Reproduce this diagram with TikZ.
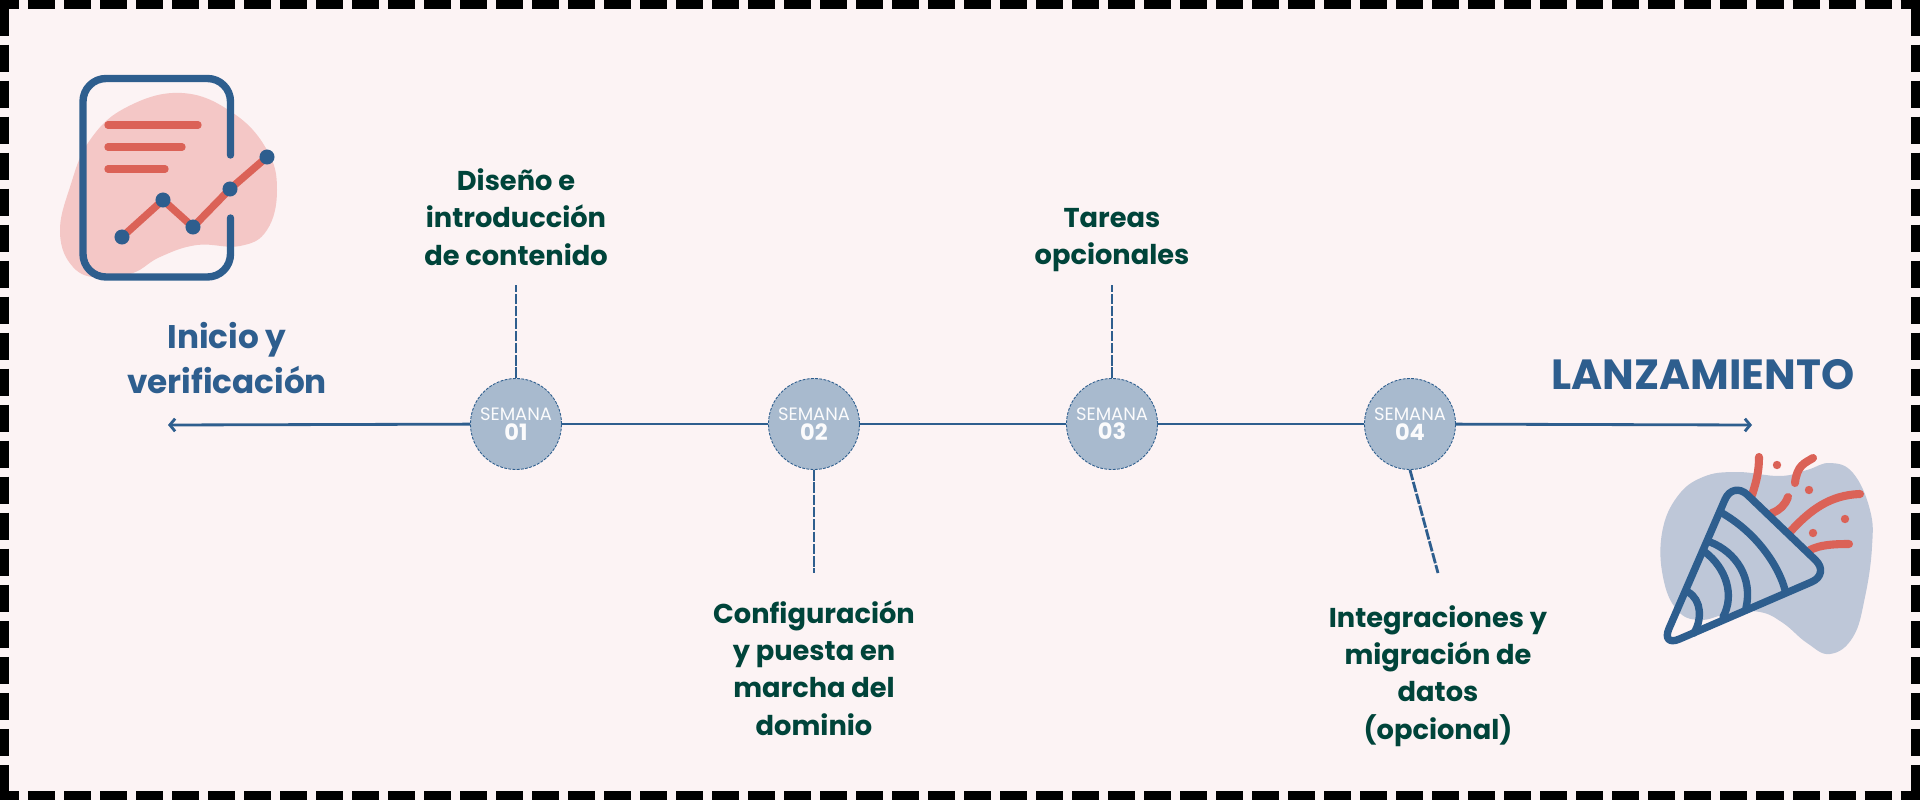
\documentclass[tikz,border=0pt]{standalone}
\usepackage{fontspec}
\usetikzlibrary{arrows.meta}
\setmainfont{Poppins}
\definecolor{fondo}{HTML}{FCF3F4}
\definecolor{azul}{HTML}{2E5E8E}
\definecolor{rojo}{HTML}{DB6257}
\definecolor{rosa}{HTML}{F4C7C6}
\definecolor{gris}{HTML}{BEC7D8}
\definecolor{semana}{HTML}{A8BACE}
\definecolor{verde}{HTML}{00443A}
\begin{document}
\begin{tikzpicture}[x=0.01cm, y=-0.01cm, >={Straight Barb[length=1.5pt,width=3.6pt]},
    borde/.style={line width=2.56pt, dash pattern=on 7.68pt off 2.56pt},
    eje/.style={azul, line width=0.8pt},
    guia/.style={azul, line width=0.8pt, dash pattern=on 3pt off 0.5pt},
    semanabox/.style={circle, draw=azul, fill=semana, line width=0.25pt, dash pattern=on 0.8pt off 0.4pt, minimum size=0.91cm, inner sep=0pt, text=white!95!semana, align=center, font=\fontsize{5.1}{5.5}\selectfont},
    tarea/.style={text=verde, align=center, font=\bfseries\fontsize{7.75}{10.6}\selectfont},
    titulo/.style={text=azul, align=center, font=\bfseries\fontsize{9.3}{13}\selectfont},
    icono/.style={azul, line width=2.1pt, line cap=round, line join=round},
    trazo/.style={rojo, line width=2.1pt, line cap=round},
    cinta/.style={rojo, line width=2.3pt, line cap=round}]
    \useasboundingbox (0,0) rectangle (1920,800);
    \fill[fondo] (0,0) rectangle (1920,800);

    % dashed frame
    \draw[borde, dash phase=2.28pt] (0,4.5) -- (1920,4.5);
    \draw[borde, dash phase=2.28pt] (0,795.5) -- (1920,795.5);
    \draw[borde, dash phase=7.8pt] (4.5,0) -- (4.5,800);
    \draw[borde, dash phase=7.8pt] (1915.5,0) -- (1915.5,800);

    % report icon
    \fill[rosa] plot[smooth cycle, tension=0.7] coordinates {(182,93) (233,113) (267,150) (277,190) (267,230) (240,246) (197,245) (160,257) (133,273) (100,278) (73,267) (60,233) (70,187) (90,140) (127,107)};
    \draw[icono, rounded corners=0.23cm] (230.5,155) -- (230.5,78.5) -- (83,78.5) -- (83,277) -- (230.5,277) -- (230.5,218);
    \draw[trazo] (108,125) -- (198,125);
    \draw[trazo] (108,147) -- (182,147);
    \draw[trazo] (108,169) -- (165,169);
    \draw[trazo, line join=round] (122,237) -- (163,200) -- (193,227) -- (230,189) -- (267,157);
    \foreach \px/\py in {122/237, 163/200, 193/227, 230/189, 267/157}
        \fill[azul] (\px,\py) circle (0.075cm);

    % party icon
    \fill[gris] plot[smooth cycle, tension=0.7] coordinates {(1737,472) (1780,476) (1807,470) (1830,463) (1853,473) (1870,510) (1872,547) (1865,597) (1853,637) (1830,654) (1807,643) (1783,623) (1760,612) (1730,613) (1700,620) (1677,610) (1663,577) (1662,533) (1677,497) (1703,477)};
    \draw[cinta] (1752,495) .. controls (1757,480) and (1759,470) .. (1759,457);
    \draw[cinta] (1795,483) .. controls (1797,465) and (1805,463) .. (1813,458);
    \draw[cinta] (1772,513) .. controls (1780,510) and (1785,505) .. (1788,497);
    \draw[cinta] (1790,532) .. controls (1810,510) and (1830,495) .. (1860,494);
    \draw[cinta] (1810,550) .. controls (1820,545) and (1832,544) .. (1849,544);
    \foreach \px/\py in {1777/465, 1809/490, 1845/519, 1813/533}
        \fill[rojo] (\px,\py) circle (0.042cm);
    \draw[icono, rounded corners=0.2cm] (1733,481) -- (1830,574) -- (1661,647) -- cycle;
    \draw[icono] (1722,513) .. controls (1760,535) and (1780,570) .. (1785,590);
    \draw[icono] (1710,542) .. controls (1736,552) and (1753,578) .. (1746,608);
    \draw[icono] (1705,552) .. controls (1726,568) and (1735,595) .. (1723,617);
    \draw[icono] (1688,592) .. controls (1702,600) and (1702,620) .. (1694,633);

    % timeline
    \coordinate (inicio) at (168,425);
    \coordinate (fin) at (1752,425);
    \node[semanabox] (sem01) at (516,424) {SEMANA\\{\fontsize{6.4}{5.5}\selectfont\bfseries 01}};
    \node[semanabox] (sem02) at (814,424) {SEMANA\\{\fontsize{6.4}{5.5}\selectfont\bfseries 02}};
    \node[semanabox] (sem03) at (1112,424) {SEMANA\\{\fontsize{6.4}{5.5}\selectfont\bfseries 03}};
    \node[semanabox] (sem04) at (1410,424) {SEMANA\\{\fontsize{6.4}{5.5}\selectfont\bfseries 04}};
    \draw[eje, <-] (inicio) -- (sem01);
    \draw[eje] (sem01) -- (sem02);
    \draw[eje] (sem02) -- (sem03);
    \draw[eje] (sem03) -- (sem04);
    \draw[eje, ->] (sem04) -- (fin);

    % week labels
    \node[tarea] (diseno) at (516,217) {Diseño e\\introducción\\de contenido};
    \node[tarea] (config) at (814,668) {Configuración\\y puesta en\\marcha del\\dominio};
    \node[tarea] (tareas) at (1112,240) {Tareas\\opcionales};
    \node[tarea] (integra) at (1438,676) {Integraciones y\\migración de\\datos\\(opcional)};
    \node[titulo] (inicio txt) at (227,358) {Inicio y\\verificación};
    \node[titulo, font=\bfseries\fontsize{12}{13}\selectfont] (lanza) at (1703,375) {LANZAMIENTO};

    \coordinate (g01) at (516,285);
    \coordinate (g02) at (814,573);
    \coordinate (g03) at (1112,285);
    \coordinate (g04) at (1438,573);
    \draw[guia] (sem01) -- (g01);
    \draw[guia] (sem02) -- (g02);
    \draw[guia] (sem03) -- (g03);
    \draw[guia] (sem04.south) -- (g04);
\end{tikzpicture}
\end{document}
